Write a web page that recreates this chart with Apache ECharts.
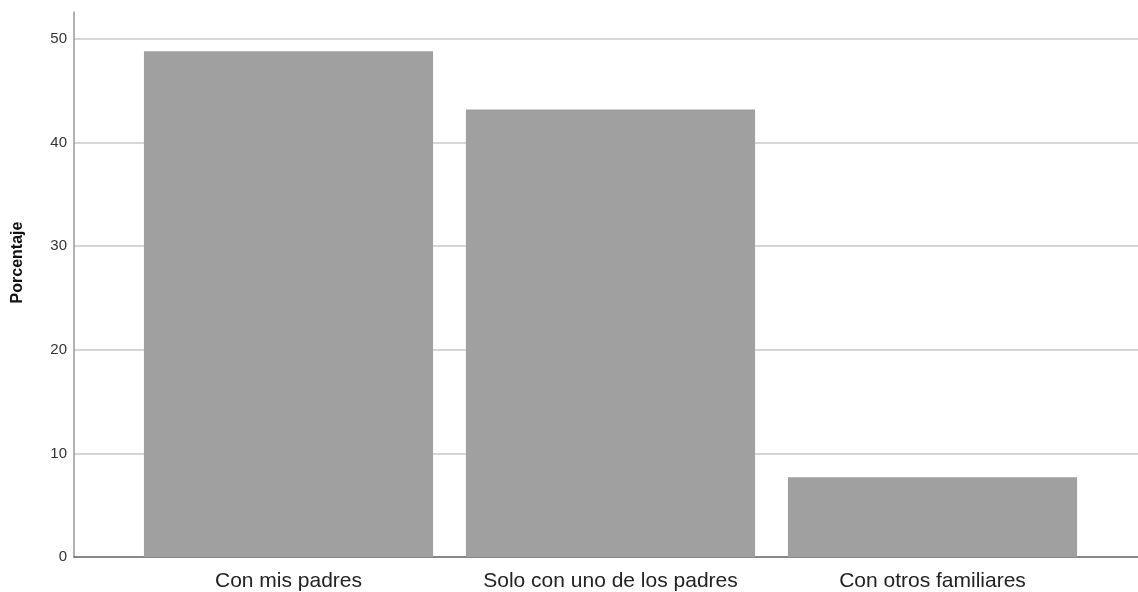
<!DOCTYPE html>
<html>
<head>
<meta charset="utf-8">
<script src="https://cdn.jsdelivr.net/npm/echarts@6/dist/echarts.min.js"></script>
<style>
html,body{margin:0;padding:0;background:#fff;}
#chart{width:1138px;height:592px;}
</style>
</head>
<body>
<div id="chart"></div>
<script>
const categories = ['Con mis padres', 'Solo con uno de los padres', 'Con otros familiares'];
const percentages = [48.8, 43.2, 7.7];
const yTicks = [0, 10, 20, 30, 40, 50];
const yAxisName = 'Porcentaje';

const Y_MAX = 52.6;
const chart = echarts.init(document.getElementById('chart'));
chart.setOption({
  backgroundColor: '#ffffff',
  animation: false,
  grid: [
    {left: 74, right: 0, top: 12, bottom: 35},
    {left: 127.5, right: 44.5, top: 12, bottom: 35}
  ],
  xAxis: [
    {gridIndex: 0, type: 'value', min: 0, max: 1,
     axisLine: {show: true, lineStyle: {color: '#606060', width: 1.5}},
     axisTick: {show: false}, axisLabel: {show: false}, splitLine: {show: false}},
    {gridIndex: 1, type: 'category', data: categories,
     axisLine: {show: false}, axisTick: {show: false},
     axisLabel: {interval: 0, hideOverlap: false, color: '#222', fontFamily: 'Liberation Sans, Arial, sans-serif', fontSize: 21, margin: 14}}
  ],
  yAxis: [
    {gridIndex: 0, type: 'value', min: 0, max: Y_MAX, interval: 10,
     name: yAxisName, nameLocation: 'middle', nameGap: 48, nameRotate: 90,
     nameTextStyle: {color: '#111', fontWeight: 'bold', fontSize: 16, fontFamily: 'Liberation Sans, Arial, sans-serif', padding: [0, 0, 0, 44]},
     axisLine: {show: true, lineStyle: {color: '#9a9a9a', width: 1.5}},
     axisTick: {show: false},
     axisLabel: {color: '#333', fontSize: 15, fontFamily: 'Liberation Sans, Arial, sans-serif', margin: 7, showMaxLabel: false,
       formatter: v => yTicks.includes(v) ? String(v) : ''},
     splitLine: {show: true, showMaxLine: false, showMinLine: false, lineStyle: {color: '#c8c8c8', width: 1.5}}},
    {gridIndex: 1, type: 'value', min: 0, max: Y_MAX, show: false, splitLine: {show: false}}
  ],
  series: [{
    type: 'bar', xAxisIndex: 1, yAxisIndex: 1,
    data: percentages,
    barCategoryGap: '10.2%',
    itemStyle: {color: '#a0a0a0'}
  }]
});
</script>
</body>
</html>
